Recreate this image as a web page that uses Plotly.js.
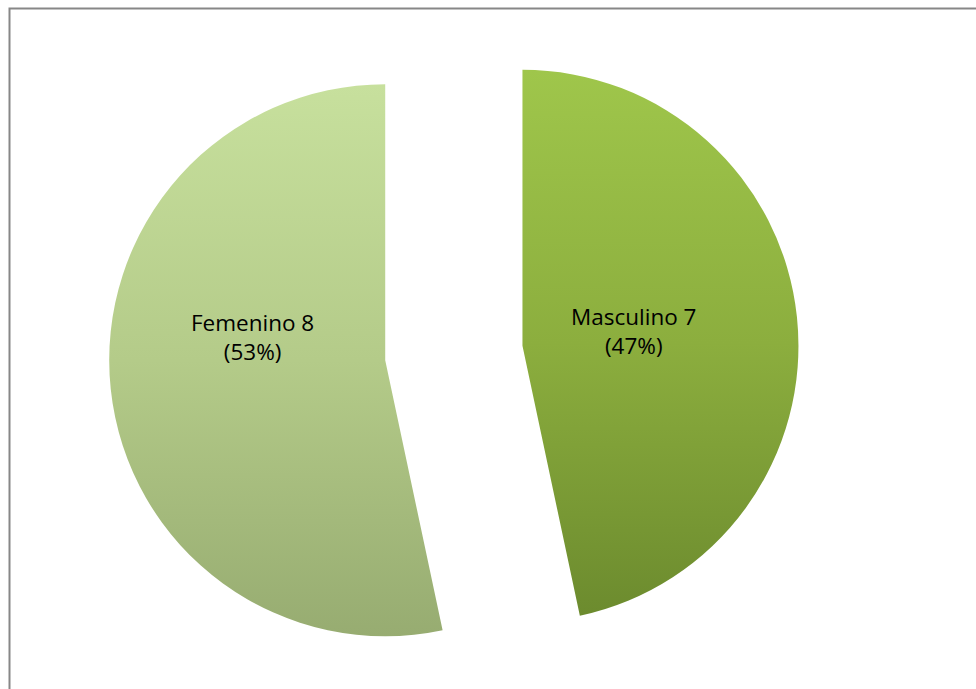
<!DOCTYPE html>
<html>
<head>
<meta charset="utf-8">
<script src="https://cdn.plot.ly/plotly-3.0.1.min.js"></script>
<style>
html,body{margin:0;padding:0;overflow:hidden;background:#fff;}
#chart{width:976px;height:699px;}
</style>
</head>
<body>
<div id="chart"></div>
<script>
var categories = ['Masculino', 'Femenino'];
var values = [7, 8];
var colors = ['#8aab3d', '#b4cb89'];
var gradientStops = [
  ['#9fc64b', '#8cae3e', '#6c8b2e'],
  ['#c7e09d', '#b4cb89', '#97ac71']
];

var total = values.reduce(function (a, b) { return a + b; }, 0);
var labelTexts = categories.map(function (c, i) {
  return c + ' ' + values[i] + '<br>(' + Math.round(values[i] / total * 100) + '%)';
});
// label anchor positions in paper coordinates (plot area: l=0, t=8, w=976, h=690)
var labelX = [633 / 976, 252 / 976];
var labelY = [1 - (331 - 8) / 690, 1 - (337 - 8) / 690];

var data = [{
  type: 'pie',
  labels: categories,
  values: values,
  sort: false,
  direction: 'clockwise',
  rotation: 0,
  pull: [0.25, 0.25],
  marker: {colors: colors, line: {width: 0}},
  textinfo: 'none',
  hoverinfo: 'none',
  showlegend: false,
  domain: {x: [0, 0.93], y: [0, 1]}
}];

var annotations = categories.map(function (c, i) {
  return {
    xref: 'paper', yref: 'paper', x: labelX[i], y: labelY[i],
    xanchor: 'center', yanchor: 'middle', showarrow: false,
    text: labelTexts[i], align: 'center',
    font: {family: 'Open Sans, sans-serif', size: 22.5, color: '#000'}
  };
});

var layout = {
  width: 976,
  height: 699,
  margin: {l: 0, r: 0, t: 8, b: 1},
  paper_bgcolor: '#ffffff',
  plot_bgcolor: '#ffffff',
  showlegend: false,
  annotations: annotations,
  shapes: [{
    type: 'rect', xref: 'paper', yref: 'paper',
    x0: 9.5 / 976, x1: 1.05, y0: -0.1, y1: 1 - 0.5 / 690,
    line: {color: '#878787', width: 2}, fillcolor: 'rgba(0,0,0,0)'
  }]
};

Plotly.newPlot('chart', data, layout, {staticPlot: true}).then(function (gd) {
  var svg = gd.querySelector('svg.main-svg');
  var ns = 'http://www.w3.org/2000/svg';
  var defs = svg.querySelector('defs') || svg.insertBefore(document.createElementNS(ns, 'defs'), svg.firstChild);
  gradientStops.forEach(function (stops, i) {
    var g = document.createElementNS(ns, 'linearGradient');
    g.setAttribute('id', 'sliceGrad' + i);
    g.setAttribute('x1', '0'); g.setAttribute('y1', '0');
    g.setAttribute('x2', '0'); g.setAttribute('y2', '1');
    stops.forEach(function (col, k) {
      var s = document.createElementNS(ns, 'stop');
      s.setAttribute('offset', (k / (stops.length - 1)).toString());
      s.setAttribute('stop-color', col);
      g.appendChild(s);
    });
    defs.appendChild(g);
  });
  var paths = gd.querySelectorAll('g.slice path.surface');
  paths.forEach(function (p, i) {
    p.style.fill = 'url(#sliceGrad' + i + ')';
  });
});
</script>
</body>
</html>
